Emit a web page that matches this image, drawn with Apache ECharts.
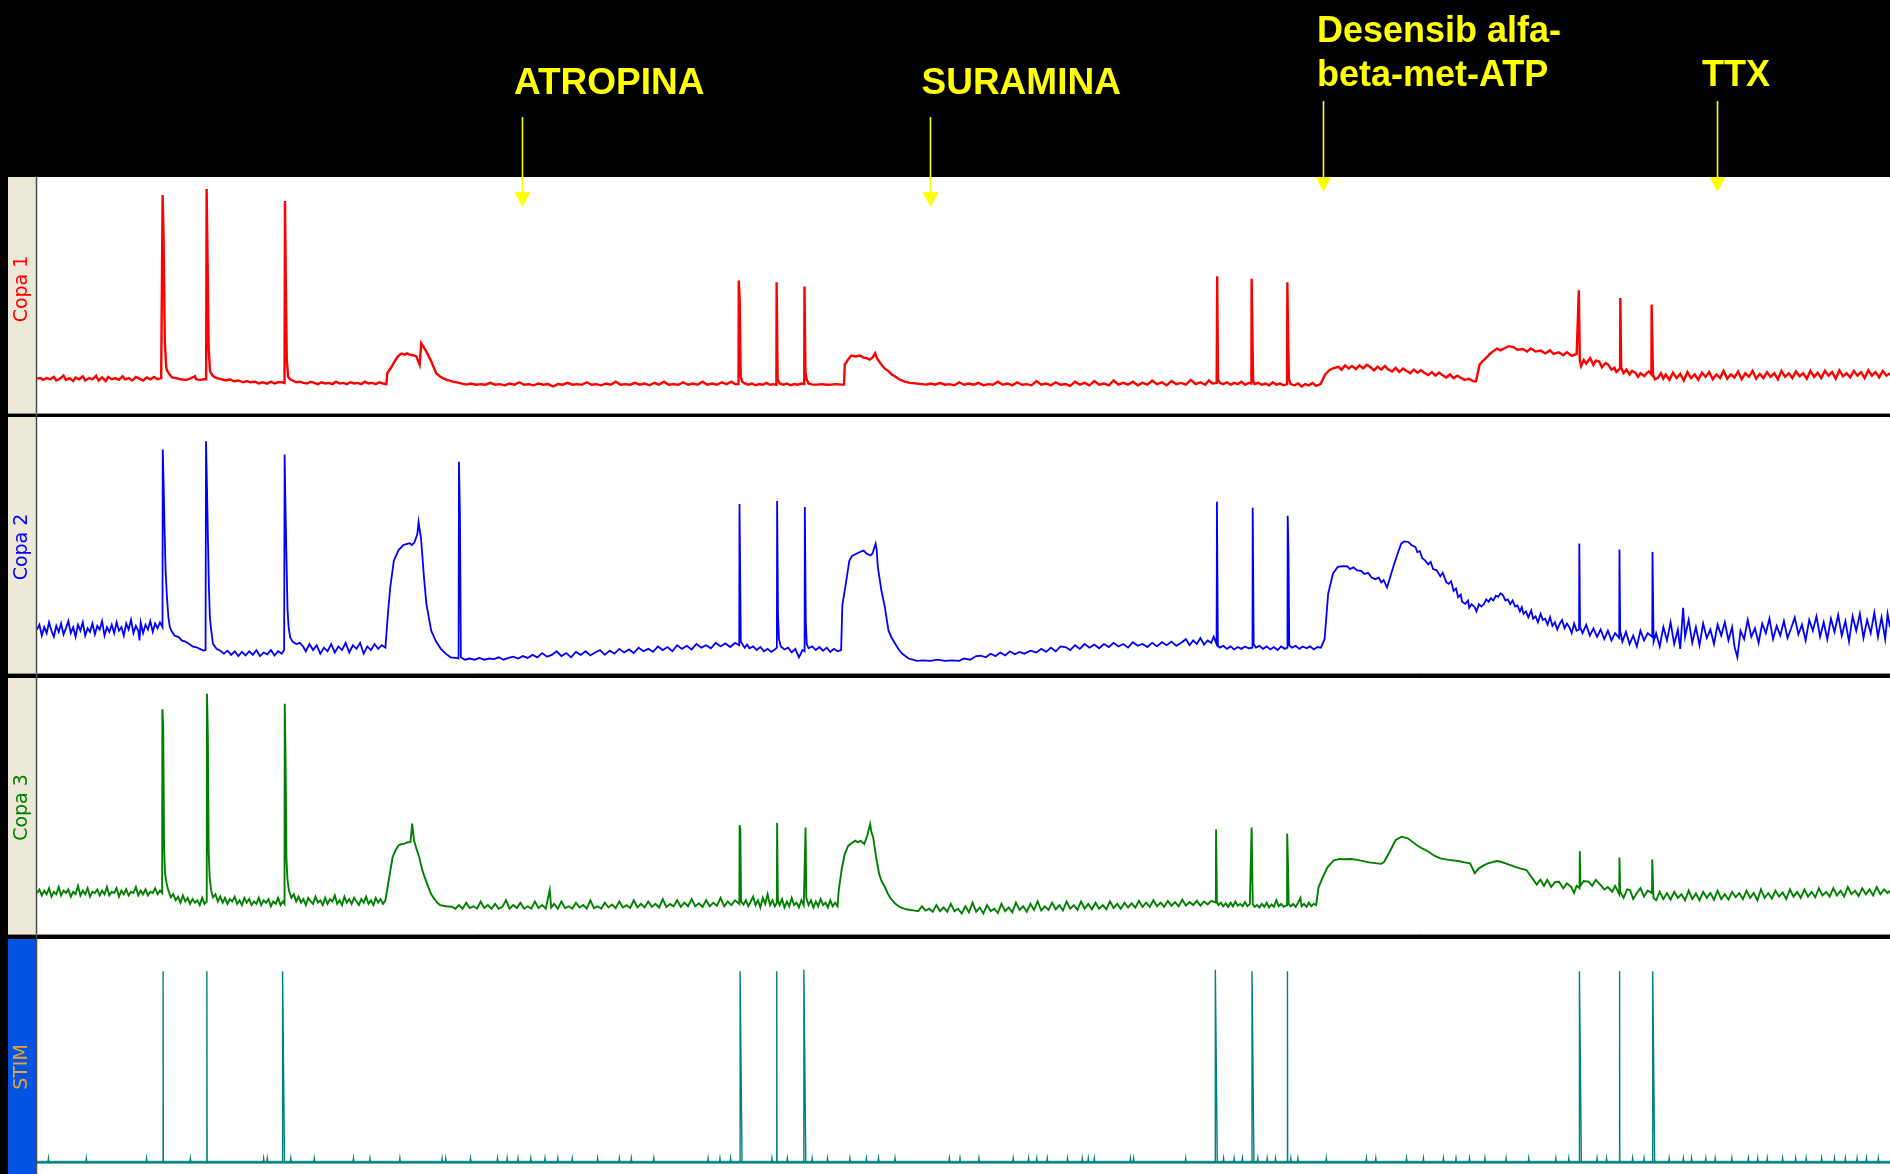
<!DOCTYPE html>
<html><head><meta charset="utf-8">
<script src="https://cdn.jsdelivr.net/npm/echarts@6/dist/echarts.min.js"></script>
<style>html,body{margin:0;padding:0;background:#000;}#c{width:1890px;height:1174px;}</style>
</head><body><div id="c"></div>
<script>
// ---------------- DATA (time in arbitrary units, amplitude in arbitrary units) ----------------
const channelNames = ['Copa 1', 'Copa 2', 'Copa 3', 'STIM'];

const copa1 = [[31,28.5],[34,29],[36,27.5],[39,29],[42,28],[45,30],[47,27],[50,28.5],[53,31],[55,27.5],[58,29],[61,26.5],[63,29.5],[66,28],[69,30.5],[71,27],[74,29],[77,28],[80,31],[82,27],[85,29.5],[88,26.5],[90,30],[93,28],[96,29],[99,27.5],[102,30.5],[104,28],[107,29],[110,27],[113,30],[116,28.5],[119,27],[122,29.5],[125,28],[128,30],[131,28],[134,29],
[135,29],[135.2,181],[135.8,181],[136,144.5],[136.8,144.5],[137,59.5],[137.8,59.5],[138.2,38],[139,35],[141,32],[143,29.5],[146.6,29],[150,28],[155,27.5],[158,28.5],[162,30.5],[163,28],[166,27.5],[169,28],[171.3,28],
[171.5,28],[171.7,186],[172.3,186],[172.5,124.5],[173.2,124.5],[173.4,53],[174.2,53],[174.5,35],[176,32],[178,30],[180.4,29],[184,28],[188,27],[191,28],[194.2,26.3],[198,27],[202,25.5],[205,26.5],[208,25.5],[212,26],[215,24.5],[218,25.5],[221.9,24.4],[225,26],[228,24.5],[231,25.5],[234.3,25.5],[236.3,25],
[236.5,25],[236.7,176],[237.2,176],[237.4,106.5],[238,106.5],[238.2,44.5],[239,44.5],[239.3,30],[241,28],[243,27],[246,25.5],[249,26],[252,25],[255,24.5],[258,26],[261,25],[264,24],[267,25.5],[270,24.5],[273,25],[276,24],[279,26],[282,24.5],[285,25],[288,24],[291,25.5],[294,24.5],[297,25],[300,24],[303,26],[306,24.5],[309,25],[312,24],[315,25.5],[318,24.5],[320.8,24],
[321.5,33],[324.9,38],[327.7,43],[330.4,47],[333.2,49.3],[336,48.5],[338,49.5],[340.1,48.5],[343,48],[345.6,47],[347,48.5],[348.4,40],[349.7,58],[351,56],[352.5,55],[354,51],[355.2,49.7],[356.5,46],[358,43],[360,38],[362.1,33],[365,30.5],[367.6,29],[371,27.5],[375.9,26],[381,25],[387,23.6],
[391,24.5],[395,23.5],[399,24],[403,23.5],[407,25],[411,23.5],[415,24],[419,23],[423,24.5],[427,23.5],[431,25.5],[435,23.5],[439,24],[443,23],[447,24.5],[451,23.5],[455,24],[459,22],[463,24],[467,23.5],[471,25],[475,23.5],[479,24],[483,23.5],[487,25.5],[491,23.5],[495,24],[499,23],[503,24.5],[507,23.5],[511,26],[515,23.5],[519,24],[523,23.5],[527,25],[531,23.5],[535,24.5],[539,23],[543,25],[547,23.5],[551,26],[555,23.5],[559,24],[563,23.5],[567,25.5],[571,23.5],[575,24.5],[579,23.5],[583,26],[587,23.5],[591,24.5],[595,23.5],[599,25.5],[603,24],[607,26],[610,24],[612.9,24],
[613.1,110],[613.7,110],[613.9,93],[614.5,93],[614.7,30],[616,26],[618,24.5],[621,23.5],[624,24.5],[627,23],[630,24],[633,23.5],[636,25],[639,23.5],[642,24],[644.3,23.5],
[644.5,108.5],[645.1,108.5],[645.3,28],[647,24.5],[650,23.5],[653,24.5],[656,23],[659,24],[662,23.5],[665,24.5],[667.4,24],
[667.6,105],[668.2,105],[668.4,33.4],[669.4,28],[671,24.5],[674,23.6],[678,23.6],[682,24],[686,23.5],[690,23.6],[694,24],[698,23.6],[700.4,23.6],
[701,40.2],[703.8,44.4],[706.4,47.7],[710,47],[713.4,47.7],[716.8,46],[719,45.5],[721.7,44.4],[724,46],[726.2,49.6],[728,45],[731.4,40.2],[734,37],[737.4,34.6],[740,32],[742.6,30.5],[746,28],[750.1,26.3],[755,25],[761.2,24.4],[768.7,23.6],
[772,24.5],[776,23.5],[780,25],[784,23.5],[788,24],[792,23],[796,25.5],[800,23.5],[804,24.5],[808,23.5],[812,25],[816,23],[820,24],[824,23.5],[828,26],[832,23.5],[836,24.5],[840,23],[844,25.5],[848,23.5],[852,24],[856,23],[860,26.5],[864,23.5],[868,24.5],[872,23],[876,25.5],[880,23.5],[884,24],[888,22.5],[892,26],[896,23.5],[900,25],[904,23],[908,26.5],[912,23.5],[916,24.5],[920,23],[924,27],[928,23.5],[932,25],[936,23.5],[940,26],[944,23],[948,25],[952,23.5],[956,27],[960,24],[964,25.5],[968,23],[972,26.5],[976,24],[980,25],[984,23.5],[988,27.5],[992,24],[996,25.5],[1000,23.5],[1003,27],[1006,24.5],[1009.5,25],
[1009.7,66.7],[1009.9,113.5],[1010.4,113.5],[1010.6,28],[1012,25],[1015,24],[1018,25.5],[1021,23.5],[1024,25],[1027,24],[1030,26],[1033,23.5],[1036,25],[1038.3,24.5],
[1038.5,111.5],[1039.5,111.5],[1039.7,27],[1041,24],[1044,25],[1047,23.5],[1050,24.5],[1053,23],[1056,25.5],[1059,23.5],[1062,24.5],[1065,23],[1067.9,24],
[1068.1,108.5],[1068.7,108.5],[1068.9,55.4],[1069.4,28],[1071,24],[1074,23],[1077,24.5],[1080,22],[1083,24],[1086,23],[1089,25],[1092,22.5],[1095.7,24],
[1099.5,32],[1103,35.6],[1106,37],[1110.5,38.4],[1113,36],[1116,39.5],[1119,37],[1121.7,39],[1125,36.5],[1128,39.5],[1131,37],[1134,40],[1136.6,38.4],[1140,35.5],[1143,38.5],[1146,36],[1149,39],[1151.5,36.4],[1155,34.5],[1158,37.5],[1161,34],[1164,37],[1166.4,35.3],[1170,33],[1173,36],[1176,33.5],[1179,35.5],[1181.4,33.6],[1185,31.5],[1188,34],[1191,31],[1194,33.5],[1196.3,31.7],[1200,29.5],[1203,32],[1206,29],[1209,31],[1211.2,29.7],[1215,27.5],[1218.7,28.5],[1222,26.5],[1224.6,26.3],
[1227.6,40.2],[1230,43],[1233.6,46.3],[1236,49],[1239.6,51.8],[1242,53.5],[1245,52],[1248.5,54],[1252,55.5],[1256,54.6],[1259,52.5],[1263.4,53.2],[1267,51],[1270,53.5],[1274,51],[1278.3,51.8],[1282,49.5],[1286,52],[1289,49],[1293.2,50.4],[1297,48],[1300,50.5],[1304,47.5],[1308.1,49],[1309.7,48],
[1309.9,102],[1310.5,102],[1310.7,44],[1311.8,38.9],[1314,44],[1316,41],[1319.3,45.6],[1322,40],[1324,43.5],[1326.8,42.8],[1329,38],[1332,41.5],[1334.2,40.2],[1337,36],[1339.4,37.5],[1341,34],[1344.1,37],
[1344.3,95.5],[1344.8,95.5],[1345,38],[1347,33],[1349.4,36],[1352,32],[1354,35],[1356.9,33.4],[1359,30],[1361,33],[1364.3,30.6],[1366,33],[1368,34.6],[1370.1,32],
[1370.3,90],[1371.2,90],[1371.4,32],[1373,28],[1375.5,29.2],[1378,33],[1380,28.5],[1382,32],[1385,27.5],[1388,33.5],[1391,29],[1394,32.5],[1397,27],[1400,34],[1403,29],[1406,32],[1409,27.5],[1412,33.5],[1415,30],[1418,34],[1421,28],[1424,32],[1427,29],[1430,35],[1433,28.5],[1436,32],[1439,29.5],[1442,34.5],[1445,28],[1448,33],[1451,30],[1454,35],[1457,28.5],[1460,32.5],[1463,29],[1466,34],[1469,30],[1472,33],[1475,28],[1478,35],[1481,30],[1484,33],[1487,29],[1490,34.5],[1493,30.5],[1496,33],[1499,28.5],[1502,35],[1505,30],[1508,33.5],[1511,29],[1514,35],[1517,31],[1520,34],[1523,28.5],[1526,35.5],[1529,30.5],[1532,33],[1535,29.5],[1538,35],[1541,31],[1544,34],[1547,29],[1550,35.5],[1553,31],[1556,34],[1559,29.5],[1562,35],[1565,31],[1568,33]];

const copa2 = [[31,36],[33,40],[35,31],[37,38],[39,33],[41,42],[43,35],[45,30],[47,39],[49,34],[51,41],[53,32],[55,37],[57,43],[59,33],[61,38],[63,30],[65,40],[67,35],[69,42],[71,31],[73,37],[75,34],[77,41],[79,32],[81,39],[83,36],[85,43],[87,31],[89,38],[91,34],[93,40],[95,33],[97,42],[99,35],[101,38],[103,31],[105,41],[107,36],[109,44],[111,33],[113,39],[115,35],[116,27],[117,42],[119,33],[121,40],[123,36],[125,43],[127,34],[129,41],[131,37],[133,42],[135.1,38],
[135.3,185],[135.9,185],[136.1,154],[136.7,154],[136.9,115],[137.5,115],[137.7,83.5],[138.5,83.5],[138.8,62.7],[140,46],[141.2,38],[142.5,35],[145,31],[148.5,29.7],[151,27],[154,26],[157.3,24],[160,22],[163.2,21.3],[166,20],[169.1,18.5],[170.8,19],
[171,20],[171.2,192],[171.8,192],[172,154],[172.6,154],[172.8,110],[173.4,110],[173.6,71],[174.2,71],[174.4,46],[175.5,35.3],[177,24],[180,20],[183,18.5],[186,16],[189,18.5],[192,15],[195,18],[198,14],[201,17.5],[204,14.5],[207,18],[210,15],[213,19],[216,14],[219,17],[222,15.5],[225,19],[228,14.5],[231,18],[234,16],[236,19],
[236.2,18],[236.4,181],[237,181],[237.2,132],[237.8,132],[238,92],[238.6,92],[238.8,53],[239.5,53],[239.7,38],[241,29.5],[243,26],[246,24],[249,25],[251.7,22],[254,18],[257,24],[260,19],[263,23],[266,16],[269,21],[272,18],[275,24],[278,17],[281,22],[284,19],[287,25],[290,17],[293,23],[296,20],[299,25],[302,16],[305,22],[308,19],[311,24],[314,20],[317,23],[320,21],
[321,21],[322,48],[324,71],[327,93],[331,102],[335,106],[338,107],[340,107.5],[342,106],[344,108],[345,107],[346.5,115],[347.5,125],[348.5,118],[349.5,112],[350.5,99],[352,79],[354,57],[356,46],[358,35],[362,26],[366,20],[370,16],[374,13],[378,12.5],[380.7,12],
[381,175],[381.6,175],[381.8,132],[382.4,132],[382.6,13],[384,11.5],[386,11],[390,12],[394,11],[398,12.5],[402,11],[406,12],[410,11.5],[414,13],[418,11],[422,12.5],[426,13.5],[430,12],[434,14],[438,12.5],[442,15],[446,13],[450,16.5],[454,13.5],[458,15],[462,18],[466,14],[470,16.5],[474,13],[478,17.5],[482,15],[486,18],[490,14.5],[494,17],[498,19],[502,15],[506,18.5],[510,16],[514,20],[518,17],[522,19.5],[526,16.5],[530,21],[534,18],[538,20],[542,17.5],[546,22],[550,19],[554,21.5],[558,18],[562,23],[566,20],[570,22.5],[574,19.5],[578,24],[582,21],[586,23],[590,20.5],[594,25],[598,22],[602,24.5],[606,21.5],[610,25],[613.5,23],
[613.7,140],[614.6,140],[614.8,26],[616,24],[618,21],[620,23.5],[622,20.5],[625,22],[628,19],[631,21.5],[634,18],[637,20],[640,17.5],[643,19.5],[644.7,21],
[644.9,142.5],[645.4,142.5],[645.6,50],[646.2,50],[646.4,28],[648,22],[651,19.5],[654,21],[657,17],[660,20],[663,13],[666,19],[667.7,18],
[667.9,137.5],[668.5,137.5],[668.7,42],[669.3,42],[669.5,24],[671,20.5],[674,22],[677,19],[680,21.5],[683,18.5],[686,21],[689,17.5],[692,20],[695,18],[698,19],
[699,56],[701.9,74],[704.8,93],[707,97],[710.7,98.7],[713,100],[716.6,101.4],[719,99],[722.5,97.3],[724,99],[726.6,107],[727.5,102],[728.4,88],[731.4,68.3],[734.3,54.4],[737.3,35],[740,29],[743,24],[746,19],[749,15.7],[754,12],[760.8,10],[766,10.5],[772,10],[778,11],[784,10],[790,10.5],[796,10],[800,12],[805,11],[810,14],[813.8,14.3],[818,13],[822,16],[826,14],[830,17],[834,14.5],[838,18],[842,15.5],[846,17.5],[850,16],[855,18.5],[860,17],[864,20],[868,17.5],[872,21],[876,18],[880,22],[884.5,21.3],[888,19],[892,23],[896,20],[900,24],[904,21],[908,23.5],[912,20.5],[916,24],[920,21.5],[924,25],[928,22],[932,24],[936,21],[940,25.5],[944,22.5],[948,24],[952,21.5],[956,25],[960,22],[964,25.5],[968,23],[972,26],[976,22.5],[980,25],[984,28],[987,23],[990,27],[993,24],[996,29],[999,23.5],[1002,27],[1005,25],[1007,30],[1009.4,24],
[1009.6,76.8],[1009.7,141.8],[1010.3,141.8],[1010.5,23],[1012,21],[1015,22.5],[1018,20],[1021,22],[1024,19.5],[1027,21.5],[1030,20],[1033,22],[1036,20.5],[1039.2,21],
[1039.4,136.8],[1040,136.8],[1040.2,24],[1042,21],[1045,22.5],[1048,20],[1051,22],[1054,19.5],[1057,21.5],[1060,19],[1063,22],[1066,20],[1068.2,21],
[1068.4,130.2],[1068.9,130.2],[1069.1,98.5],[1069.5,98.5],[1069.7,23],[1072,21],[1075,22.5],[1078,20],[1081,22],[1084,20.5],[1087,22],[1090,19.5],[1093,21.5],[1096,21],
[1099,28],[1102,65.8],[1106,82.4],[1110,87.9],[1114,88.5],[1118,88.2],[1120,86],[1123,87.5],[1126,85],[1129.3,84.6],[1132,82],[1135,83],[1138,79],[1141,77.7],[1144,79],[1146,75],[1148,77],[1150.8,70.8],[1153,78],[1156.8,90.5],[1160,100],[1162.6,107.1],[1165,109],[1168.5,108.5],[1171,106],[1174.4,104.3],[1176,100],[1178,101],[1180,95],[1182.3,93.3],[1185,90],[1187,92],[1189,86],[1192,85],[1195,80],[1197,83],[1200,75],[1202,73.9],[1204,76],[1206,68],[1208,70],[1209.8,62.8],[1212,65],[1213,59],[1215.7,57.3],[1218,60],[1219,54],[1221,57],[1223.5,54.5],[1225,51],[1227,57],[1229,55],[1231.3,57.3],[1233,61],[1235,59],[1237,62],[1239,60.1],[1241,64],[1243,63],[1245,66],[1247,64.3],[1249,60],[1251,61],[1253,57],[1255,60.1],[1257,55],[1259,56],[1261,51],[1262.6,54.5],[1264,49],[1266,51],[1268,46],[1270.4,51.8],[1272,45],[1274,47],[1276,42],[1278.2,49],[1280,44],[1282,45],[1284,40],[1286,46.2],[1288,39],[1290,42],[1292,36],[1294,40.7],[1296,44],[1298,37],[1300,41],[1302,38],[1304,33],[1306,41],[1308,35],[1310.1,36],
[1310.3,107.2],[1310.7,107.2],[1310.9,38],[1313,33],[1316,40],[1319,31],[1322,37],[1325,30],[1328,36],[1331,28],[1334,35],[1337,27],[1340,33],[1343.4,29],
[1343.6,102.3],[1344,102.3],[1344.2,35],[1346,26],[1349,34],[1352,24],[1355,31],[1358,22],[1361,35],[1364,27],[1367,33],[1370.8,30],
[1371,100.3],[1371.7,100.3],[1371.9,26],[1374,33],[1377,22],[1380,38],[1383,27],[1386,42],[1389,24],[1392,36],[1394,20],[1396.4,54],[1398,30],[1401,44],[1404,25],[1407,38],[1410,23],[1413,41],[1416,29],[1419,36],[1422,24],[1425,40],[1428,31],[1431,42],[1434,27],[1437,38],[1439,22],[1441.4,13],[1444,35],[1447,28],[1450,44],[1453,30],[1456,37],[1459,25],[1462,41],[1465,33],[1468,45],[1471,28],[1474,39],[1477,31],[1480,43],[1483,29],[1486,37],[1489,46],[1492,32],[1495,40],[1498,27],[1501,44],[1504,35],[1507,47],[1510,30],[1513,42],[1516,28],[1519,45],[1522,34],[1525,48],[1528,31],[1531,43],[1534,26],[1537,47],[1540,35],[1543,49],[1546,29],[1549,44],[1552,33],[1555,50],[1558,30],[1561,46],[1564,28],[1566,49],[1568,38]];

const copa3 = [[31,34],[33,37],[35,32],[37,36],[39,33],[41,38],[43,31],[45,35],[47,33],[49,39],[51,32],[53,36],[55,34],[57,37],[59,31],[61,35],[63,33],[65,40],[67,32],[69,36],[71,33],[73,38],[75,31],[77,35],[79,34],[81,37],[83,32],[85,36],[87,33],[89,39],[91,32],[93,35],[95,34],[97,38],[99,31],[101,36],[103,33],[105,37],[107,32],[109,35],[111,34],[113,39],[115,32],[117,36],[119,33],[121,37],[123,32],[125,35],[127,34],[129,38],[131,33],[133,36],[134.8,34],
[135,186.5],[135.5,186.5],[135.7,172],[136.2,172],[136.4,72.3],[137,72.3],[137.2,50.2],[138.5,42],[140,36],[142,30.4],[144,33],[146,28],[148,31],[150,26],[152,32],[154,27],[156,30],[158,25],[160,29],[162,26],[164,28],[166,24],[168,30],[170,25],[171.8,27],
[172,199.5],[172.5,199.5],[172.7,165],[173.2,165],[173.4,68.2],[174,68.2],[174.2,47.4],[175.5,36],[177,30.4],[179,33],[181,27],[183,31],[185,26],[187,30],[189,25],[191,29],[193,27],[195,31],[197,25],[199,28],[201,24],[203,30],[205,26],[207,29],[209,24],[211,27],[213,25],[215,30],[217,24],[219,28],[221,26],[223,29],[225,23],[227,27],[229,25],[231,30],[233,24],[235,27],[236.3,25],
[236.5,191.2],[237,191.2],[237.2,142.8],[237.7,142.8],[237.9,62.6],[238.5,62.6],[238.7,46],[240,36],[242,30],[244,33],[246,27],[248,31],[250,26],[252,29],[254,24],[256,30],[258,27],[260,25],[262,31],[264,26],[266,28],[268,24],[270,30],[272,25],[274,29],[276,27],[278,32],[280,25],[282,28],[284,24],[286,31],[288,26],[290,29],[292,25],[294,30],[296,27],[298,24],[300,29],[302,26],[304,31],[306,25],[308,28],[310,24],[312,30],[314,26],[316,29],[318,25],[320,28],
[321,28],[323.7,50.2],[326,64],[328.4,69.5],[331,73.7],[333,74.5],[335.8,75],[338,76],[340.8,76.4],[342.2,91.6],[343.7,77.8],[346,70],[348,64],[350.6,53],[353,46],[355.5,39.1],[358,33],[360.4,29.4],[363,26],[365.4,24],[370,23],[375.2,22.6],
[378,21],[381,24],[384,21],[387,26],[390,21.5],[393,23],[396,21],[399,27],[402,21.5],[405,24],[408,21],[411,25],[414,21],[417,22.5],[420,28],[423,21],[426,24],[429,21.5],[432,26],[435,21],[438,23],[441,21],[444,27],[447,21.5],[450,24],[453,21],[456.3,36.5],[457.5,22],[460,25],[463,21],[466,27],[469,21.5],[472,23],[475,21],[478,26],[481,22],[484,24],[487,21],[490,28],[493,21.5],[496,23],[499,21],[502,26],[505,22],[508,24.5],[511,21.5],[514,27],[517,22],[520,24],[523,21.5],[526,28],[529,22],[532,25],[535,22],[538,27],[541,22.5],[544,25],[547,22],[550,29],[553,22.5],[556,25],[559,23],[562,28],[565,22.5],[568,26],[571,23],[574,29],[577,23],[580,25.5],[583,22.5],[586,28],[589,23],[592,26],[595,23.5],[598,30],[601,23],[604,27],[607,24],[610,28],[613.6,25],
[613.8,90.3],[614.2,90.3],[614.4,86.4],[614.8,86.4],[615,27],[617,24.5],[619,28],[621,23],[623,27],[625,31],[627,24],[629,28],[631,22],[633,30],[635,25],[637,33],[639,24],[641,28],[643,23],[644.7,26],
[644.9,92.2],[645.3,92.2],[645.5,28],[647,24],[649,29],[651,22],[653,27],[655,23],[657,30],[659,24],[661,26],[663,22],[665,28],[667,24],[668.3,25],
[668.5,88.3],[668.9,88.3],[669.1,30],[671,24],[673,28],[675,22],[677,27],[679,23],[681,29],[683,24],[685,26],[687,22],[689,28],[691,23],[693,26],[695,23],
[696,36],[698.5,54],[701,66.4],[703.9,73.3],[706,75],[709.8,77.5],[712,76],[714,77.5],[717.2,74.7],[719.6,81.6],[722.1,91.3],[723,85],[724.6,80.2],[727,63.7],[729.5,49.9],[731.5,44],[734.4,38.8],[737,33],[739.4,29.1],[743,25],[746.8,22.2],[752,20.5],[759.1,19.4],
[762,19],[765,23],[768,19.5],[771,21],[774,18.5],[777,24],[780,19],[783,22],[786,18.5],[789,25],[792,19],[795,21],[798,17],[801,23],[804,18],[807,26],[810,18.5],[813,22],[816,17],[819,24],[822,19],[825,21],[828,17.5],[831,25],[834,19],[837,22],[840,18],[843,26],[846,20],[849,23],[852,18.5],[855,25],[858,20],[861,27],[864,19.5],[867,23],[870,20],[873,26],[876,20.5],[879,24],[882,19.5],[885,27],[888,21],[891,24],[894,20],[897,27],[900,21],[903,25],[906,20.5],[909,26],[912,21],[915,24],[918,20.5],[921,27],[924,21.5],[927,25],[930,21],[933,26],[936,22],[939,25.5],[942,22],[945,27.5],[948,22.5],[951,26],[954,22.5],[957,28],[960,23],[963,26],[966,22.5],[969,27.5],[972,23.5],[975,26.5],[978,23],[981,28.5],[984,23.5],[987,26.5],[990,24],[993,27.5],[996,23.5],[999,27],[1002,24.5],[1005,27.5],[1008.8,26],
[1008.9,61.3],[1009,86.7],[1009.5,86.7],[1009.7,27],[1011,24],[1013,26],[1015,23],[1017,25.5],[1019,22.5],[1021,26],[1023,23],[1025,27],[1027,23.5],[1029,25],[1031,23],[1033,26.5],[1035,23],[1037,25],[1038.4,24],
[1038.5,88.3],[1039.2,88.3],[1039.4,25],[1041,22.5],[1043,24],[1045,22],[1047,25],[1049,22.5],[1051,26],[1053,22],[1055,24.5],[1057,22.5],[1059,28],[1061,23],[1063,25],[1065,22.5],[1067.9,24],
[1068,83.3],[1068.4,83.3],[1068.6,60],[1069,60],[1069.2,25],[1071,23],[1073,25],[1075,22.5],[1077,26],[1079,30],[1080,23],[1082,25],[1084,22.5],[1086,26],[1088,23],[1090,25],[1092,24],
[1094,38.8],[1097.5,47.1],[1101.4,55.4],[1106.4,61],[1111.3,62.3],[1116,62],[1121.1,62.3],[1126,61.5],[1131,60.5],[1135.9,59.5],[1141,58.8],[1145.8,58.2],[1148.2,59.5],[1153,68.3],[1158,78],[1163,80.8],[1168,79.4],[1175.3,73.9],[1180,71],[1185.2,68.3],[1190,65],[1195,62.8],[1202,61.5],[1209.8,60.6],[1215,59.5],[1219.7,58.7],[1223.6,50.4],[1227,54.5],[1231,57],[1234.5,58.7],[1241.8,60.6],[1245,60],[1249.2,58.7],[1252,57.5],[1256.6,55.9],[1261,54.5],[1266.4,53.1],[1271.4,46.2],[1275,41],[1278,45],[1281,40],[1283.7,44.8],[1287,39],[1290,43],[1293.5,43.4],[1297,38],[1300,42],[1303.4,39.3],[1306,34],[1308,40],[1310.5,38],
[1310.7,68.7],[1311,68.7],[1311.2,40],[1314,44],[1318,43.4],[1321,40],[1324,45],[1328,40.6],[1331,37],[1334,39],[1337.6,35.1],[1340,40],[1343.4,33],
[1343.6,63.4],[1344,63.4],[1344.2,35],[1347,30],[1350,37],[1352.4,36.5],[1355,29],[1358,34],[1361,38],[1364,31],[1367,36],[1370.6,34],
[1370.8,61.8],[1371.6,61.8],[1371.8,30],[1374,28],[1377,35],[1380,29],[1383,34],[1386,28.5],[1389,35],[1392,30],[1395,33],[1398,28],[1401,36],[1404,29],[1407,33.5],[1410,28],[1413,35],[1416,30],[1419,34],[1422,28.5],[1425,36],[1428,29],[1431,33],[1434,28.5],[1437,35],[1440,30.5],[1443,34],[1446,29],[1449,36],[1452,30],[1455,34],[1458,28],[1461,37],[1464,30],[1467,34],[1470,29.5],[1473,36],[1476,31],[1479,34.5],[1482,29],[1485,37],[1488,31],[1491,35],[1494,30],[1497,37],[1500,31],[1503,35],[1506,30.5],[1509,38],[1512,32],[1515,35],[1518,31],[1521,38],[1524,32],[1527,36],[1530,31],[1533,39],[1536,33],[1539,36],[1542,31.5],[1545,38],[1548,33],[1551,37],[1554,32],[1557,39],[1560,33],[1563,37],[1566,34],[1568,36]];

const stimBase = 9.7;
const stimTickV = 12.9;
const stimPulseT = [135.6, 171.9, 234.7, 614.2, 644.6, 667.1, 1008.4, 1038.8, 1068.2, 1310.4, 1343.7, 1371.2];
const stimPulseV = [168.2, 168.2, 168.2, 168.2, 168.2, 169.4, 169.4, 168.2, 168.2, 168.2, 168.2, 168.2];
const stimPulseDur = [0.2, 0.2, 1.6, 1.6, 0.2, 1.6, 1.6, 1.6, 0.2, 1.6, 0.2, 1.6];
const stimTickT = [40.5, 71.9, 121.9, 158.2, 219, 222, 241.5, 261, 293.5, 307.2, 332, 367, 370, 390.6, 413, 421, 430, 440.6, 452.4, 463, 475, 496, 514, 524, 542.6, 587.7, 597.5, 606.3, 640.6, 653.4, 674, 686.7, 705.3, 719, 729, 742.7, 787.8, 796.6, 812.3, 840.7, 853.5, 860.3, 869, 885.8, 898, 903, 908, 938, 940.6, 983.8, 1015.2, 1024, 1030.8, 1043.6, 1051.4, 1058.3, 1071, 1076.9, 1100.4, 1133.7, 1141.5, 1167, 1181, 1197.6, 1208, 1219.2, 1232, 1249.6, 1268.3, 1290.8, 1301.6, 1325, 1332.9, 1354.5, 1364, 1384.8, 1396.6, 1403.4, 1415.2, 1423, 1436.8, 1450.5, 1458.3, 1466.2, 1478.9, 1489.7, 1498.5, 1511.3, 1522, 1531, 1540.7, 1548.5, 1558.3];

const eventNames = ['ATROPINA', 'SURAMINA', 'Desensib alfa-\nbeta-met-ATP', 'TTX'];
const eventTimes = [433, 771.5, 1098, 1424.4];

const tStart = 31, tEnd = 1568;

// ---------------- BUILD ----------------
const stimEvents = [];
stimTickT.forEach(t => stimEvents.push({ t, kind: 'tick' }));
stimPulseT.forEach((t, i) => stimEvents.push({ t, kind: 'pulse', v: stimPulseV[i], w: stimPulseDur[i] }));
stimEvents.sort((a, b) => a.t - b.t);
const stimData = [[tStart, stimBase]];
stimEvents.forEach(e => {
  if (e.kind === 'tick') stimData.push([e.t - 0.4, stimBase], [e.t, stimTickV], [e.t + 0.4, stimBase]);
  else stimData.push([e.t, stimBase], [e.t, e.v], [e.t + e.w, e.v], [e.t + e.w, stimBase]);
});
stimData.push([tEnd, stimBase]);

const panels = [
  { top: 177, height: 236, yMax: 196 },
  { top: 417, height: 256, yMax: 212 },
  { top: 678, height: 256, yMax: 212.5 },
  { top: 939, height: 235, yMax: 195 }
];

const chart = echarts.init(document.getElementById('c'), null, { renderer: 'canvas' });

const lineSeries = (i, data, color, width, z) => ({
  type: 'line', xAxisIndex: i, yAxisIndex: i, data, showSymbol: false, symbol: 'none',
  lineStyle: { color, width, join: 'miter' }, silent: true, animation: false, z: z || 3
});

chart.setOption({
  backgroundColor: '#000',
  animation: false,
  grid: panels.map(p => ({ left: 37, right: 0, top: p.top, height: p.height, show: true, backgroundColor: '#ffffff', borderWidth: 0 })),
  xAxis: panels.map((p, i) => ({ type: 'value', gridIndex: i, min: tStart, max: tEnd, show: false })),
  yAxis: panels.map((p, i) => ({ type: 'value', gridIndex: i, min: 0, max: p.yMax, show: false })),
  series: [
    lineSeries(0, copa1, '#ff0000', 2.4),
    lineSeries(1, copa2, '#0000ff', 1.8),
    lineSeries(2, copa3, '#008000', 1.9),
    lineSeries(3, [[tStart, stimBase], [tEnd, stimBase]], '#3a9c9c', 3, 2),
    lineSeries(3, stimData, '#008080', 1.4)
  ]
});

// decorations
const g = [];
const stripColors = ['#ECE9D8', '#ECE9D8', '#ECE9D8', '#0054E3'];
const labelColors = ['#ff0000', '#0000ff', '#008000', '#F0A030'];
const labelY = [289, 547, 807.5, 1067];
panels.forEach((p, i) => {
  g.push({ type: 'rect', z: 10, shape: { x: 8, y: p.top, width: 28, height: p.height }, style: { fill: stripColors[i] } });
  g.push({ type: 'text', z: 11, x: 22, y: labelY[i], rotation: Math.PI / 2,
    style: { text: channelNames[i], fill: labelColors[i], font: '19px "DejaVu Sans", sans-serif', align: 'center', verticalAlign: 'middle', textAlign: 'center', textVerticalAlign: 'middle' } });
});
g.push({ type: 'line', z: 12, shape: { x1: 36.5, y1: 177, x2: 36.5, y2: 1174 }, style: { stroke: '#4a4a4a', lineWidth: 1.5 } });
[413.5, 673.5, 934.5].forEach(y => {
  g.push({ type: 'line', z: 12, shape: { x1: 8, y1: y, x2: 1890, y2: y }, style: { stroke: '#8c8c8c', lineWidth: 1 } });
});

const evLayout = [
  { top: 117, tip: 207, dx: -8.5, ty: 84, font: 'bold 37px "Liberation Sans", Arial, sans-serif' },
  { top: 117, tip: 207, dx: -9, ty: 84, font: 'bold 37px "Liberation Sans", Arial, sans-serif' },
  { top: 101, tip: 192, dx: -6.5, ty: 54.5, font: 'bold 36px "Liberation Sans", Arial, sans-serif' },
  { top: 101, tip: 192, dx: -15.6, ty: 76.5, font: 'bold 36px "Liberation Sans", Arial, sans-serif' }
];
eventTimes.forEach((t, i) => {
  const x = Math.round(chart.convertToPixel({ xAxisIndex: 0 }, t)) + 0.5;
  const L = evLayout[i];
  g.push({ type: 'line', z: 20, shape: { x1: x, y1: L.top, x2: x, y2: L.tip - 14 }, style: { stroke: '#ffff00', lineWidth: 1.6 } });
  g.push({ type: 'polygon', z: 20, shape: { points: [[x - 8, L.tip - 15], [x + 8, L.tip - 15], [x, L.tip]] }, style: { fill: '#ffff00' } });
  g.push({ type: 'text', z: 20, x: x + L.dx, y: L.ty,
    style: { text: eventNames[i], fill: '#ffff00', font: L.font, align: 'left', verticalAlign: 'middle', textAlign: 'left', textVerticalAlign: 'middle', lineHeight: 44 } });
});
chart.setOption({ graphic: { elements: g } });
</script>
</body></html>
